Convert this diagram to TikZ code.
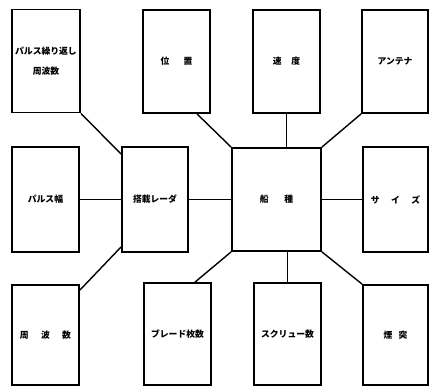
\documentclass[tikz,border=0pt]{standalone}
\usepackage{fontspec}
\newfontfamily\jp{Noto Sans CJK JP}
\tikzset{
  unitbox/.style={draw,line width=1.8pt,minimum width=67pt,minimum height=103pt,inner sep=1pt,align=center,font=\jp\bfseries\fontsize{8.8}{20}\selectfont},
  link/.style={line width=1.4pt}
}
\begin{document}
\begin{tikzpicture}[x=1pt,y=-1pt]
\useasboundingbox (0,0) rectangle (429,386);

% top row
\node[unitbox,minimum width=68pt] (prf) at (46,61) {パルス繰り返し\\周波数};
\node[unitbox] (pos) at (176.5,61.5) {位\hspace{1.6em}置};
\node[unitbox] (spd) at (286.5,61.5) {速\hspace{1.1em}度};
\node[unitbox,minimum width=66pt] (ant) at (395,61.5) {アンテナ};

% middle row
\node[unitbox,minimum height=105pt] (pw) at (45.5,199.5) {パルス幅};
\node[unitbox,minimum width=66pt,minimum height=105pt] (radar) at (155,199.5) {搭載レーダ};
\node[unitbox,minimum width=89pt] (ship) at (276.5,199.5) {船\hspace{1.8em}種};
\node[unitbox,minimum width=65pt,minimum height=105pt] (size) at (395.5,199.5) {サ\hspace{1.3em}イ\hspace{1.3em}ズ};

% bottom row
\node[unitbox,minimum height=100pt] (freq) at (45.5,335) {周\hspace{1.4em}波\hspace{1.4em}数};
\node[unitbox,minimum height=102pt] (blade) at (177.5,334) {ブレード枚数};
\node[unitbox,minimum height=102pt] (screw) at (287.5,334) {スクリュー数};
\node[unitbox,minimum width=65pt,minimum height=100pt] (funnel) at (395.5,335) {煙\hspace{0.7em}突};

% connections
\draw[link] (prf.south east) -- ([yshift=-8pt]radar.north west);
\draw[link] (pw.east) -- (radar.west);
\draw[link] ([yshift=-6pt]freq.north east) -- ([yshift=6pt]radar.south west);
\draw[link] (radar.east) -- (ship.west);
\draw[link] ([xshift=20.5pt]pos.south) -- (ship.north west);
\draw[link] (spd.south) -- (spd.south |- ship.north);
\draw[link] (ant.south west) -- (ship.north east);
\draw[link] (ship.east) -- (size.west);
\draw[link] (ship.south west) -- ([xshift=17.5pt]blade.north);
\draw[link] (screw.north |- ship.south) -- (screw.north);
\draw[link] (ship.south east) -- (funnel.north west);
\end{tikzpicture}
\end{document}
